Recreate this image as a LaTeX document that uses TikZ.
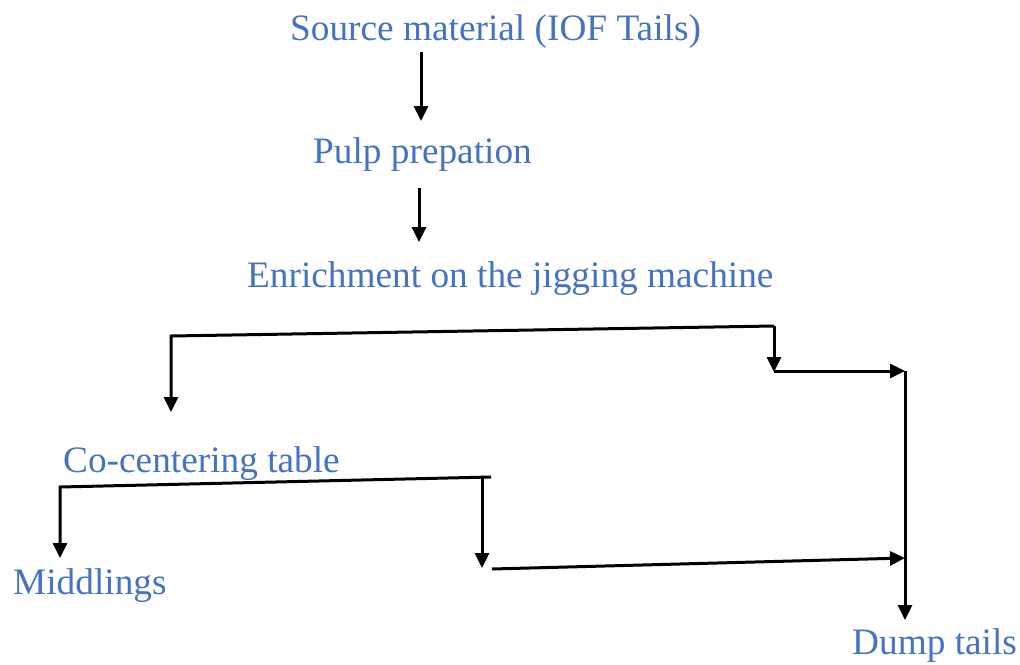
\documentclass[tikz,border=0pt]{standalone}
\usepackage{fontspec}
\setmainfont{Liberation Serif}
\usetikzlibrary{arrows.meta}
\definecolor{labelblue}{HTML}{4472C4}
\tikzset{
  label text/.style={anchor=base west, inner sep=0pt, text=labelblue, font=\fontsize{37.3}{44}\selectfont},
  flow/.style={line width=3pt, -{Triangle[length=15pt,width=14pt]}},
}
\begin{document}
\begin{tikzpicture}[x=1pt,y=-1pt]
\useasboundingbox (0,0) rectangle (1020,664);

% stage labels
\node[label text] (src)    at (290,40)  {Source material (IOF Tails)};
\node[label text] (pulp)   at (313,163) {Pulp prepation};
\node[label text] (enrich) at (247,287) {Enrichment on the jigging machine};
\node[label text] (table)  at (63,472)  {Co-centering table};
\node[label text] (midd)   at (13,594)  {Middlings};
\node[label text] (dump)   at (852,654) {Dump tails};

% connector points
\coordinate (a1s) at (421,52);  \coordinate (a1e) at (421,121);
\coordinate (a2s) at (419,188); \coordinate (a2e) at (419,242);
\coordinate (j1r) at (774,326); \coordinate (j1l) at (171,336);
\coordinate (j1c) at (171,412); \coordinate (j1t) at (774,372);
\coordinate (j1h) at (774,371); \coordinate (dmp) at (905,371);
\coordinate (dmpe) at (905,620);
\coordinate (t1r) at (491,477); \coordinate (t1l) at (60,487);
\coordinate (t1m) at (60,558);  \coordinate (t1d) at (482,477);
\coordinate (t1e) at (482,568); \coordinate (t2s) at (492,569);
\coordinate (t2e) at (905,558);

% main line
\draw[flow] (a1s) -- (a1e);
\draw[flow] (a2s) -- (a2e);

% jigging machine outputs
\draw[flow] (j1r) -- (j1l) -- (j1c);
\draw[flow] (j1r) -- (j1t);
\draw[flow] (j1h) -- (dmp);
\draw[flow] (dmp) -- (dmpe);

% concentrating table outputs
\draw[flow] (t1r) -- (t1l) -- (t1m);
\draw[flow] (t1d) -- (t1e);
\draw[flow] (t2s) -- (t2e);
\end{tikzpicture}
\end{document}
